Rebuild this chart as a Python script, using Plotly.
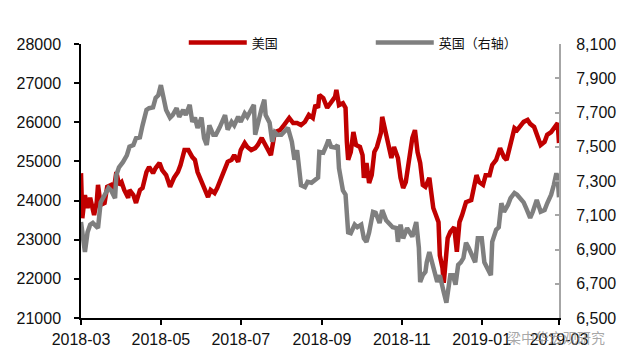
import plotly.graph_objects as go

# ---- data ----
us_dates = [
    "2018-03-01","2018-03-02","2018-03-04","2018-03-06","2018-03-08","2018-03-09","2018-03-11","2018-03-13",
    "2018-03-14","2018-03-16","2018-03-19","2018-03-21","2018-03-24","2018-03-26","2018-03-28","2018-03-30",
    "2018-04-01","2018-04-03","2018-04-06","2018-04-07","2018-04-10","2018-04-12","2018-04-15","2018-04-17",
    "2018-04-20","2018-04-22","2018-04-25","2018-04-27","2018-04-30","2018-05-02","2018-05-05","2018-05-08",
    "2018-05-11","2018-05-14","2018-05-16","2018-05-19","2018-05-22","2018-05-25","2018-05-27","2018-05-29",
    "2018-06-01","2018-06-03","2018-06-06","2018-06-08","2018-06-11","2018-06-13","2018-06-16","2018-06-19",
    "2018-06-21","2018-06-24","2018-06-26","2018-06-29","2018-07-01","2018-07-04","2018-07-06","2018-07-09",
    "2018-07-12","2018-07-14","2018-07-17","2018-07-19","2018-07-22","2018-07-24","2018-07-27","2018-07-31",
    "2018-08-03","2018-08-07","2018-08-10","2018-08-13","2018-08-16","2018-08-19","2018-08-22","2018-08-25",
    "2018-08-27","2018-08-29","2018-08-30","2018-09-02","2018-09-05","2018-09-08","2018-09-11","2018-09-12",
    "2018-09-14","2018-09-17","2018-09-19","2018-09-20","2018-09-21","2018-09-23","2018-09-25","2018-09-27",
    "2018-09-30","2018-10-02","2018-10-03","2018-10-05","2018-10-07","2018-10-09","2018-10-11","2018-10-13",
    "2018-10-16","2018-10-17","2018-10-19","2018-10-21","2018-10-24","2018-10-26","2018-10-29","2018-10-31",
    "2018-11-02","2018-11-04","2018-11-07","2018-11-09","2018-11-11","2018-11-13","2018-11-15","2018-11-17",
    "2018-11-19","2018-11-22","2018-11-23","2018-11-25","2018-11-27","2018-11-29","2018-11-30","2018-12-02",
    "2018-12-03","2018-12-04","2018-12-06","2018-12-08","2018-12-11","2018-12-13","2018-12-15","2018-12-17",
    "2018-12-20","2018-12-24","2018-12-26","2018-12-28","2018-12-30","2019-01-02","2019-01-04","2019-01-07",
    "2019-01-09","2019-01-12","2019-01-15","2019-01-18","2019-01-20","2019-01-23","2019-01-26","2019-01-28",
    "2019-01-31","2019-02-02","2019-02-05","2019-02-07","2019-02-10","2019-02-12","2019-02-15","2019-02-18",
    "2019-02-20","2019-02-23","2019-02-25","2019-02-28","2019-03-01",
]
us_values = [
    24700,23550,24140,23810,24070,23890,23630,23960,
    24400,23890,23940,24350,24400,24270,24730,24400,
    24470,24270,24070,24270,24140,23940,24270,24320,
    24730,24860,24700,24830,24960,24780,24650,24350,
    24580,24730,24910,25290,25290,25110,25040,24730,
    24470,24270,24090,24270,24190,24320,24600,24860,
    24990,25040,25160,24990,25290,25470,25370,25290,
    25340,25420,25600,25470,25290,25160,25750,25800,
    25930,26110,25980,25980,25930,26010,26190,26110,
    26440,26370,26700,26620,26370,26490,26650,26830,
    26440,26490,26370,25500,25040,25240,25750,25420,
    25370,25160,24580,24960,24450,24650,25240,25370,
    25730,26140,25850,25500,25090,25370,25090,24580,
    24320,24470,25240,25600,25800,25240,24960,24400,
    24350,24580,24320,23810,23630,23450,22600,22280,
    21900,22280,23040,23200,23320,22690,23450,23630,
    23960,24010,24320,24650,24470,24400,24650,24650,
    24910,25040,25340,25110,25040,25500,25850,25800,
    25930,26010,26060,25960,25880,25680,25420,25500,
    25680,25750,25850,25980,25470,
]

uk_dates = [
    "2018-03-01","2018-03-03","2018-03-04","2018-03-06","2018-03-08","2018-03-10","2018-03-13","2018-03-14",
    "2018-03-16","2018-03-19","2018-03-22","2018-03-24","2018-03-27","2018-03-28","2018-03-30","2018-04-02",
    "2018-04-05","2018-04-07","2018-04-10","2018-04-12","2018-04-15","2018-04-17","2018-04-20","2018-04-22",
    "2018-04-25","2018-04-27","2018-04-29","2018-05-01","2018-05-03","2018-05-05","2018-05-08","2018-05-10",
    "2018-05-13","2018-05-15","2018-05-18","2018-05-20","2018-05-23","2018-05-25","2018-05-27","2018-05-29",
    "2018-06-01","2018-06-03","2018-06-05","2018-06-07","2018-06-10","2018-06-12","2018-06-15","2018-06-19",
    "2018-06-21","2018-06-24","2018-06-26","2018-06-29","2018-07-01","2018-07-04","2018-07-06","2018-07-09",
    "2018-07-11","2018-07-12","2018-07-14","2018-07-17","2018-07-19","2018-07-20","2018-07-23","2018-07-25",
    "2018-07-27","2018-07-29","2018-08-01","2018-08-03","2018-08-06","2018-08-09","2018-08-11","2018-08-13",
    "2018-08-14","2018-08-16","2018-08-19","2018-08-21","2018-08-24","2018-08-26","2018-08-29","2018-08-30",
    "2018-09-02","2018-09-04","2018-09-06","2018-09-08","2018-09-11","2018-09-13","2018-09-14","2018-09-17",
    "2018-09-19","2018-09-21","2018-09-23","2018-09-26","2018-09-28","2018-10-01","2018-10-03","2018-10-05",
    "2018-10-07","2018-10-10","2018-10-12","2018-10-15","2018-10-17","2018-10-20","2018-10-22","2018-10-25",
    "2018-10-28","2018-10-29","2018-10-31","2018-11-02","2018-11-05","2018-11-07","2018-11-09","2018-11-12",
    "2018-11-14","2018-11-15","2018-11-17","2018-11-19","2018-11-20","2018-11-22","2018-11-24","2018-11-26",
    "2018-11-28","2018-11-30","2018-12-01","2018-12-03","2018-12-05","2018-12-07","2018-12-08","2018-12-10",
    "2018-12-12","2018-12-14","2018-12-16","2018-12-18","2018-12-20","2018-12-22","2018-12-25","2018-12-27",
    "2018-12-29","2019-01-01","2019-01-03","2019-01-06","2019-01-08","2019-01-09","2019-01-12","2019-01-14",
    "2019-01-16","2019-01-18","2019-01-21","2019-01-23","2019-01-26","2019-01-28","2019-01-31","2019-02-02",
    "2019-02-04","2019-02-07","2019-02-09","2019-02-12","2019-02-15","2019-02-18","2019-02-20","2019-02-23",
    "2019-02-25","2019-02-27","2019-02-28","2019-03-01",
]
uk_values = [
    7060,6945,6885,7000,7045,7055,7030,7025,
    7175,7220,7260,7245,7200,7335,7380,7410,
    7450,7500,7510,7550,7555,7625,7715,7725,
    7730,7785,7800,7860,7785,7715,7670,7685,
    7725,7675,7715,7685,7745,7645,7670,7610,
    7670,7550,7510,7625,7570,7570,7615,7685,
    7600,7645,7625,7675,7645,7695,7675,7715,
    7745,7570,7645,7725,7775,7685,7640,7530,
    7585,7570,7570,7585,7610,7530,7425,7480,
    7395,7275,7265,7295,7290,7305,7320,7470,
    7465,7500,7540,7500,7495,7510,7375,7245,
    7220,7000,6995,7045,7030,7045,6965,6945,
    7000,7120,7115,7055,7130,7070,7055,7030,
    7025,6945,7045,6965,7025,7000,6975,7060,
    6910,6710,6750,6770,6825,6885,6825,6760,
    6710,6750,6705,6650,6590,6695,6750,6750,
    6695,6810,6825,6850,6940,6910,6855,6825,
    6965,6965,6825,6770,6750,6945,7015,7030,
    7170,7120,7160,7200,7230,7220,7190,7175,
    7140,7085,7120,7190,7120,7130,7170,7220,
    7275,7345,7320,7205,
]

x_tick_vals = ["2018-03-01","2018-05-01","2018-07-01","2018-09-01","2018-11-01","2019-01-01","2019-03-01"]
x_tick_text = ["2018-03","2018-05","2018-07","2018-09","2018-11","2019-01","2019-03"]
left_ticks = [21000,22000,23000,24000,25000,26000,27000,28000]
right_ticks = [6500,6700,6900,7100,7300,7500,7700,7900,8100]

series_names = ["美国", "英国（右轴）"]
RED = "#C00000"
GRAY = "#7F7F7F"
TICK_FONT = dict(family="Liberation Sans, Arial, sans-serif", size=16, color="#111111")

fig = go.Figure()
fig.add_trace(go.Scatter(x=us_dates, y=us_values, name=series_names[0], mode="lines",
                         line=dict(color=RED, width=4.5), yaxis="y"))
fig.add_trace(go.Scatter(x=uk_dates, y=uk_values, name=series_names[1], mode="lines",
                         line=dict(color=GRAY, width=4.5), yaxis="y2"))

# the page body keeps its default 8px margin, so the figure is 8px smaller
fig.update_layout(
    width=618, height=353,
    margin=dict(l=73, r=67, t=36, b=43, autoexpand=False),
    paper_bgcolor="white", plot_bgcolor="white",
    showlegend=True,
    legend=dict(orientation="h", x=0.215, y=1.005, xanchor="left", yanchor="middle",
                entrywidth=114, entrywidthmode="pixels", itemwidth=58,
                font=dict(family="Noto Sans CJK SC", size=13, color="#111111"),
                bgcolor="rgba(0,0,0,0)", tracegroupgap=0),
    xaxis=dict(type="date", range=["2018-03-01", "2019-03-01"],
               tickvals=x_tick_vals, ticktext=x_tick_text,
               showgrid=False, zeroline=False,
               showline=True, linecolor="#000000", linewidth=1.5,
               ticks="outside", ticklen=5, tickcolor="#000000", tickwidth=1.5,
               tickfont=TICK_FONT, ticklabelstandoff=1),
    yaxis=dict(range=[21000, 28000], tickvals=left_ticks, tickformat="d",
               showgrid=False, zeroline=False,
               showline=True, linecolor="#000000", linewidth=1.5,
               ticks="outside", ticklen=5, tickcolor="#000000", tickwidth=1.5,
               tickfont=TICK_FONT, ticklabelstandoff=10),
    yaxis2=dict(range=[6500, 8100], tickvals=right_ticks, tickformat=",",
                overlaying="y", side="right",
                showgrid=False, zeroline=False,
                showline=True, linecolor="#A6A6A6", linewidth=2,
                ticks="inside", ticklen=4, tickcolor="#A6A6A6", tickwidth=1.5,
                tickfont=TICK_FONT, ticklabelstandoff=12),
)

fig.add_annotation(text="梁中华宏观研究", xref="paper", yref="paper",
                   x=1.10, y=-0.07, xanchor="right", yanchor="middle", showarrow=False,
                   font=dict(family="Noto Sans CJK SC", size=14, color="rgba(140,140,140,0.75)"))

fig.write_html("out.html")
